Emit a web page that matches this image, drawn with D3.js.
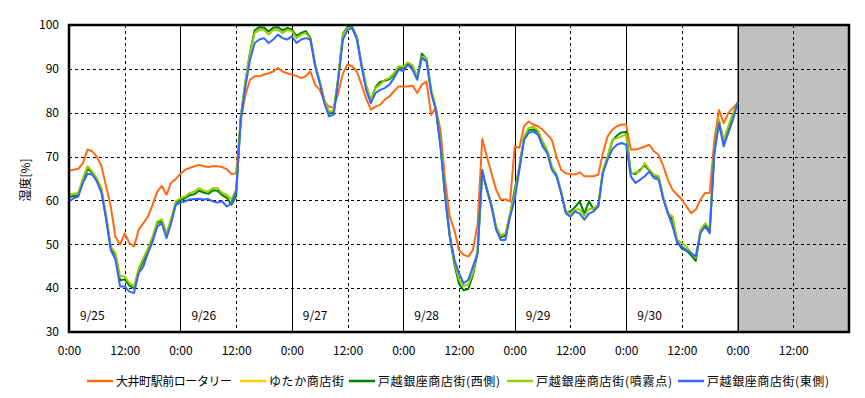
<!DOCTYPE html>
<html><head><meta charset="utf-8">
<script src="https://cdn.jsdelivr.net/npm/d3@7"></script>
<style>
html,body{margin:0;padding:0;background:#fff;}
svg text{font-family:"Noto Sans CJK JP","DejaVu Sans",sans-serif;fill:#000;}
</style></head>
<body>
<svg id="chart" width="865" height="398"></svg>
<script>
// ---- data (hourly readings from 9/25 0:00, hour index 0..144) ----
const seriesNames = ["大井町駅前ロータリー","ゆたか商店街","戸越銀座商店街(西側)","戸越銀座商店街(噴霧点)","戸越銀座商店街(東側)"];
const seriesColors = ["#ff6a13","#ffcc00","#008000","#99cc00","#3366ff"];
const dayLabels = ["9/25","9/26","9/27","9/28","9/29","9/30"];
const xTickLabels = ["0:00","12:00","0:00","12:00","0:00","12:00","0:00","12:00","0:00","12:00","0:00","12:00","0:00","12:00"];
const yTicks = [30,40,50,60,70,80,90,100];

const oimachi = [66.8,67.0,67.2,68.5,71.6,71.2,70.0,67.8,63.2,58.6,51.7,49.9,52.5,50.3,49.5,53.3,54.8,56.3,59.0,62.0,63.3,61.3,64.0,64.9,
66.1,67.0,67.4,67.8,68.1,67.8,67.6,67.8,67.8,67.6,67.1,66.0,66.2,78.5,84.1,87.5,88.3,88.3,88.7,89.0,89.4,90.2,89.4,89.0,
88.7,88.4,87.9,88.3,89.4,86.4,85.2,82.6,81.4,81.1,84.5,89.0,91.0,90.6,89.4,86.4,83.3,80.7,81.4,81.8,83.0,83.7,84.9,86.0,
86.0,86.0,86.2,84.5,86.4,87.1,79.5,81.1,76.1,64.7,56.3,53.3,48.7,47.6,47.2,48.7,54.5,74.0,70.0,66.2,62.4,60.2,60.2,59.8,
72.3,72.0,76.9,78.0,77.3,76.9,76.1,75.0,73.8,70.0,67.0,66.2,66.0,65.9,66.4,65.5,65.5,65.5,65.9,70.8,74.6,76.1,76.9,77.3,
77.3,71.6,71.6,71.9,72.3,72.7,71.2,70.4,67.8,64.7,62.4,61.3,60.2,58.6,57.1,57.9,60.2,61.7,61.7,73.8,80.6,77.6,79.9,81.1,82.2];
const yutaka = [];
const togoshiWest = [60.8,61.0,61.2,64.6,67.2,66.3,64.8,62.3,56.2,49.2,47.5,41.8,42.0,40.6,40.0,44.0,46.2,48.6,51.3,54.8,55.3,52.0,55.4,59.4,
60.1,60.5,61.2,61.4,62.2,61.8,61.5,62.3,62.2,61.2,60.6,59.0,61.0,79.0,87.0,93.8,98.8,99.5,99.4,98.5,99.4,99.5,98.8,99.3,
99.0,97.5,98.2,98.6,97.0,91.0,87.0,82.8,79.8,80.0,88.0,98.0,99.6,99.5,97.3,91.0,86.0,82.6,85.8,87.0,87.3,87.6,88.6,90.3,
90.2,91.3,90.4,88.0,93.5,92.2,85.0,81.0,72.8,61.2,52.0,45.5,41.0,39.5,39.8,43.0,48.0,66.5,62.6,58.8,53.8,51.6,52.0,56.8,
62.5,67.5,74.0,76.0,76.2,75.6,73.0,71.2,67.5,65.8,61.8,57.3,57.5,58.5,59.8,57.0,59.8,58.0,58.8,66.6,69.8,73.5,74.8,75.5,
75.6,66.2,66.0,67.0,68.0,66.8,65.6,65.2,60.6,57.0,55.5,50.6,49.0,48.5,47.5,46.2,53.0,54.5,53.2,71.2,78.0,73.2,76.5,79.5,82.3];
const togoshiSpray = [61.3,61.5,61.7,65.1,67.8,66.6,65.1,62.8,56.7,49.5,48.0,42.7,42.7,41.1,40.4,44.5,46.8,49.1,51.8,55.2,55.7,52.5,55.9,59.8,
60.5,60.9,61.7,62.0,62.8,62.3,62.0,62.8,62.8,61.7,61.3,60.2,62.5,79.2,87.2,93.6,98.2,98.9,98.9,97.8,98.9,98.9,98.2,98.9,
98.6,97.0,97.8,98.2,96.7,91.3,87.2,83.0,80.2,80.5,88.3,97.8,99.3,99.3,97.0,91.3,86.4,83.0,85.6,86.4,87.5,87.9,89.0,90.6,
90.5,91.5,90.8,88.2,92.8,92.5,85.5,81.2,73.0,61.5,52.5,46.0,42.0,40.5,40.8,43.5,48.5,66.0,62.8,59.0,54.0,52.0,52.5,57.0,
61.5,68.0,74.5,76.5,76.8,76.0,73.5,71.5,67.8,66.0,62.0,57.5,57.0,57.9,58.0,56.5,58.0,58.2,59.0,67.0,70.1,73.8,74.2,74.6,
75.0,66.0,66.4,66.6,68.5,67.0,65.8,65.5,60.9,57.1,56.3,51.0,50.3,49.5,48.0,46.9,53.3,54.8,53.7,71.6,78.4,73.8,76.9,79.9,82.2];
const togoshiEast = [59.8,60.5,60.9,64.0,66.1,65.9,64.3,61.7,55.6,48.7,46.5,40.4,40.4,39.2,38.9,43.4,44.9,48.0,50.6,54.0,54.8,51.4,54.8,59.0,
59.5,59.8,60.2,60.3,60.4,60.2,60.3,59.8,59.5,59.8,58.6,59.4,62.0,78.4,86.0,92.1,95.9,96.7,97.0,95.9,96.7,97.8,97.0,96.7,
97.4,95.9,96.7,97.0,96.7,90.6,86.8,82.2,79.2,79.5,87.5,96.7,98.9,99.3,96.7,90.6,85.2,82.2,84.5,85.2,85.6,86.4,87.9,89.8,
89.5,91.0,89.8,87.5,92.5,91.7,84.5,80.7,72.3,60.9,51.8,46.5,43.4,41.1,41.9,44.9,48.0,67.0,62.4,58.6,53.3,51.0,51.0,56.3,
60.2,67.0,73.8,75.4,75.7,75.0,72.3,70.8,67.0,65.5,61.7,57.1,56.3,57.5,57.0,55.6,57.0,57.5,58.6,66.2,69.3,71.6,72.7,73.1,
72.7,65.5,64.0,64.7,65.5,66.6,65.1,64.7,60.2,57.1,54.1,50.3,49.5,48.7,48.0,47.2,52.5,54.1,52.5,70.8,77.6,72.3,75.4,78.4,82.2];
const seriesData = [oimachi, yutaka, togoshiWest, togoshiSpray, togoshiEast];

// ---- layout ----
const svg = d3.select("#chart");
const L = 69, R = 849, T = 25, B = 332;
const x = d3.scaleLinear().domain([0,168]).range([L,R]);
const y = d3.scaleLinear().domain([30,100]).range([B,T]);

// grey "no data" area from 10/1 0:00
svg.append("rect").attr("x", x(144)).attr("y", T).attr("width", x(168)-x(144)).attr("height", B-T)
  .attr("fill","#c0c0c0");
svg.append("line").attr("x1",x(144)).attr("x2",x(144)).attr("y1",T).attr("y2",B).attr("stroke","#808080").attr("stroke-width",1);

// horizontal grid
const g = svg.append("g");
yTicks.filter(v=>v>30 && v<100).forEach(v=>{
  g.append("line").attr("x1",L).attr("x2",R).attr("y1",Math.round(y(v))+0.5).attr("y2",Math.round(y(v))+0.5)
   .attr("stroke","#000").attr("stroke-width",1).attr("stroke-dasharray","3,3");
});
// vertical grid
d3.range(12,168,12).forEach(h=>{
  const xp = Math.round(x(h))+0.5;
  const solid = h % 24 === 0;
  g.append("line").attr("x1",xp).attr("x2",xp).attr("y1",T).attr("y2",B)
   .attr("stroke","#000").attr("stroke-width",1).attr("stroke-dasharray", solid ? null : "3,3");
});

// day labels
dayLabels.forEach((d,i)=>{
  svg.append("text").attr("x", x(i*24)+11).attr("y", 320).attr("font-size","12px").text(d);
});

// lines
const line = d3.line().x((d,i)=>x(i)).y(d=>y(d));
seriesData.forEach((arr,k)=>{
  if(!arr.length) return;
  svg.append("path").datum(arr).attr("d",line).attr("fill","none")
    .attr("stroke",seriesColors[k]).attr("stroke-width",2).attr("stroke-linejoin","round");
});

// frame
svg.append("rect").attr("x",L).attr("y",T).attr("width",R-L).attr("height",B-T)
  .attr("fill","none").attr("stroke","#000").attr("stroke-width",2.5);

// axes
const yAxis = d3.axisLeft(y).tickValues(yTicks).tickSize(0).tickPadding(10);
const ya = svg.append("g").attr("transform",`translate(${L},0)`).call(yAxis);
ya.select(".domain").remove();
ya.selectAll("text").attr("font-size","12px").style("font-family",'"Noto Sans CJK JP","DejaVu Sans",sans-serif');

const xAxis = d3.axisBottom(x).tickValues(d3.range(0,xTickLabels.length*12,12)).tickSize(0).tickPadding(14)
  .tickFormat((d,i)=>xTickLabels[i]);
const xa = svg.append("g").attr("transform",`translate(0,${B})`).call(xAxis);
xa.select(".domain").remove();
xa.selectAll("text").attr("font-size","12px").style("font-family",'"Noto Sans CJK JP","DejaVu Sans",sans-serif');

// y title
svg.append("text").attr("transform","translate(30,180) rotate(-90)").attr("text-anchor","middle")
  .attr("font-size","12px").text("湿度[%]");

// legend
const legendX = [87,240,349,507,678];
const legendW = [116,75,122,136,122];
const ly = 381;
seriesNames.forEach((n,k)=>{
  const lx = legendX[k];
  svg.append("line").attr("x1",lx).attr("x2",lx+26).attr("y1",ly).attr("y2",ly)
    .attr("stroke",seriesColors[k]).attr("stroke-width",2.5);
  svg.append("text").attr("x",lx+29).attr("y",ly+4.5).attr("font-size","12px")
    .attr("textLength",legendW[k]).attr("lengthAdjust","spacing").text(n);
});
</script>
</body></html>
